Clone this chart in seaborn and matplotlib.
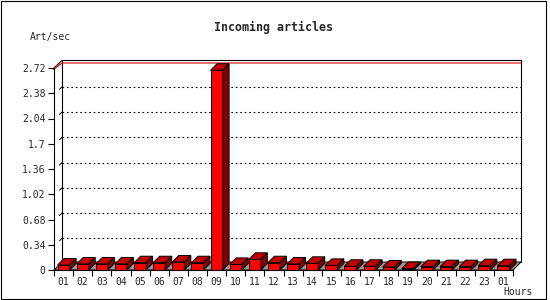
import matplotlib
matplotlib.use("Agg")
import matplotlib.pyplot as plt
import seaborn as sns
import pandas as pd
from matplotlib.patches import Polygon, Rectangle

# ---- data ----
hour_labels = ["01", "02", "03", "04", "05", "06", "07", "08", "09", "10", "11", "12",
               "13", "14", "15", "16", "17", "18", "19", "20", "21", "22", "23", "01"]
art_per_sec = [0.067, 0.081, 0.081, 0.081, 0.098, 0.098, 0.108, 0.098, 2.69, 0.075, 0.144, 0.098,
               0.081, 0.09, 0.062, 0.05, 0.05, 0.04, 0.02, 0.045, 0.045, 0.045, 0.058, 0.058]
y_ticks = [0, 0.34, 0.68, 1.02, 1.36, 1.7, 2.04, 2.38, 2.72]
y_tick_labels = ["0", "0.34", "0.68", "1.02", "1.36", "1.7", "2.04", "2.38", "2.72"]
title = "Incoming articles"
y_title = "Art/sec"
x_title = "Hours"

sns.set_style("white")
plt.rcParams["font.family"] = ["DejaVu Sans Mono"]

W, H = 550, 300
fig = plt.figure(figsize=(W / 100, H / 100), dpi=100)
ax_l, ax_b, ax_w, ax_h = 54, 30, 459, 202
ax = fig.add_axes([ax_l / W, ax_b / H, ax_w / W, ax_h / H])

n = len(art_per_sec)
ymax = y_ticks[-1]
df = pd.DataFrame({"pos": list(range(n)), "rate": art_per_sec})

ax.set_xlim(-0.5, n - 0.5)
ax.set_ylim(0, ymax)

# pixel -> data unit conversion
ux = n / ax_w
uy = ymax / ax_h

# 3D offsets (pixels)
WDX, WDY = 8, 8      # wall depth
BDX, BDY = 6.5, 6.5  # bar depth

x0w, x1w = -0.5, n - 0.5
top_back = ymax + 7.5 * uy

# back wall outline
ax.plot([x0w + WDX * ux] * 2, [WDY * uy, top_back], color="black", lw=0.8, clip_on=False, zorder=0.6)
ax.plot([x0w, x0w + WDX * ux], [ymax, top_back], color="black", lw=0.8, clip_on=False, zorder=0.6)
ax.plot([x0w + WDX * ux, x1w + WDX * ux], [top_back, top_back], color="black", lw=0.8, clip_on=False, zorder=0.6)
ax.plot([x1w + WDX * ux] * 2, [top_back, WDY * uy], color="black", lw=0.8, clip_on=False, zorder=0.6)

# red max line
ax.plot([x0w - 0.5 * ux, x0w + WDX * ux, x1w + WDX * ux],
        [ymax - 1.5 * uy, ymax + 5 * uy, ymax + 5 * uy],
        color="#e00000", lw=0.8, clip_on=False, zorder=0.7)

# dotted gridlines on back wall + little stubs
for v in y_ticks[1:-1]:
    gy = v + 6.5 * uy
    ax.plot([x0w + WDX * ux, x1w + WDX * ux], [gy, gy], color="black", lw=0.8,
            linestyle=(0, (1.5, 2.5)), clip_on=False, zorder=0.5)
    ax.plot([x0w + (WDX - 2.5) * ux, x0w + WDX * ux], [gy - 2.5 * uy, gy], color="black",
            lw=0.7, clip_on=False, zorder=0.6)

# floor
floor = Polygon([(x0w, 0), (x1w, 0), (x1w + WDX * ux, WDY * uy), (x0w + WDX * ux, WDY * uy)],
                closed=True, facecolor="#999999", edgecolor="black", lw=0.7, clip_on=False, zorder=1)
ax.add_patch(floor)

# bars (front faces)
sns.barplot(data=df, x="pos", y="rate", color="#ff0000", saturation=1, width=0.63,
            edgecolor="black", linewidth=0.7, ax=ax, zorder=3)
for p in ax.patches:
    if p is floor:
        continue
    bx, bw, bh = p.get_x(), p.get_width(), p.get_height()
    dx, dy = BDX * ux, BDY * uy
    top = Polygon([(bx, bh), (bx + bw, bh), (bx + bw + dx, bh + dy), (bx + dx, bh + dy)],
                  closed=True, facecolor="#c00000", edgecolor="black", lw=0.7, clip_on=False, zorder=3)
    side = Polygon([(bx + bw, 0), (bx + bw + dx, dy), (bx + bw + dx, bh + dy), (bx + bw, bh)],
                   closed=True, facecolor="#800000", edgecolor="black", lw=0.7, clip_on=False, zorder=3)
    ax.add_patch(top)
    ax.add_patch(side)
    p.set_clip_on(False)

ax.set_xlim(-0.5, n - 0.5)
ax.set_ylim(0, ymax)

# axes styling
for s in ["top", "right"]:
    ax.spines[s].set_visible(False)
for s in ["left", "bottom"]:
    ax.spines[s].set_color("black")
    ax.spines[s].set_linewidth(0.8)
    ax.spines[s].set_zorder(5)

ax.set_yticks(y_ticks)
ax.set_yticklabels(y_tick_labels, fontsize=7)
ax.set_xticks(range(n))
ax.set_xticklabels(hour_labels, fontsize=7)
ax.set_xticks([i - 0.5 for i in range(n + 1)], minor=True)
ax.tick_params(axis="x", which="major", length=0, pad=5)
ax.tick_params(axis="x", which="minor", length=4, width=0.8, color="black", direction="out", bottom=True)
ax.tick_params(axis="y", length=4, width=0.8, color="black", direction="out", left=True, pad=2)
ax.set_xlabel("")
ax.set_ylabel("")

fig.text(274 / W, 1 - 27 / H, title, ha="center", va="center", fontsize=8.4, fontweight="bold")
fig.text(30 / W, 1 - 37 / H, y_title, ha="left", va="center", fontsize=7)
fig.text(533 / W, 1 - 292 / H, x_title, ha="right", va="center", fontsize=7)

# outer frame
fig.patches.append(Rectangle((0.5 / W, 1.5 / H), 545 / W, 298 / H, transform=fig.transFigure,
                             fill=False, edgecolor="black", lw=0.8))

fig.savefig("out.png", dpi=100)
